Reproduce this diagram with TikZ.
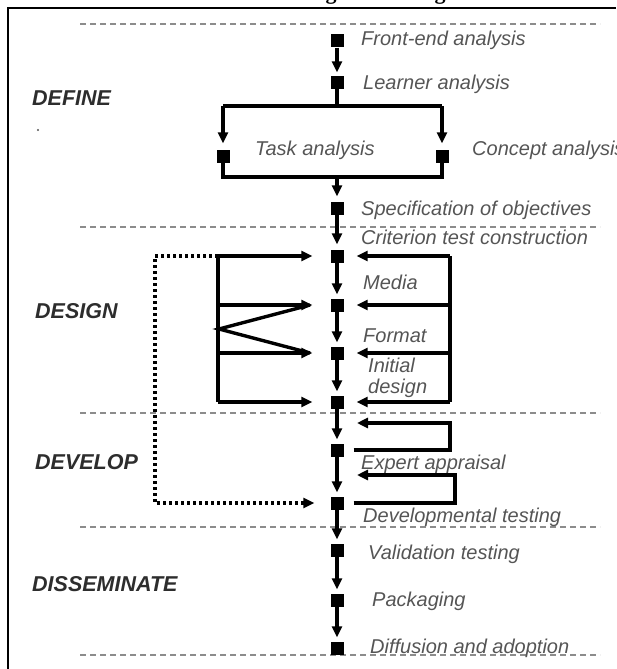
\documentclass[tikz,border=0pt]{standalone}
\usepackage{fontspec}
\setmainfont{Liberation Sans}
\newfontfamily\serifb{Liberation Serif}
\usetikzlibrary{arrows.meta}
\definecolor{txt}{RGB}{85,85,85}
\definecolor{phase}{RGB}{45,45,45}
\definecolor{sepc}{RGB}{140,140,140}
\begin{document}
\begin{tikzpicture}[x=1pt,y=-1pt,
 sq/.style={fill=black,minimum width=13pt,minimum height=13pt,inner sep=0pt,draw=none},
 lab/.style={anchor=base west,text=txt,font=\fontsize{20}{22}\selectfont\itshape,inner sep=0pt},
 ph/.style={anchor=base west,text=phase,font=\fontsize{21.5}{24}\selectfont\bfseries\itshape,inner sep=0pt},
 ln/.style={line width=3.4pt,black,line join=miter},
 ar/.style={ln,-{Triangle[length=11pt,width=10pt]}},
 sepl/.style={sepc,line width=1.4pt,dash pattern=on 6pt off 4pt},
 dotl/.style={line width=3.4pt,black,dash pattern=on 3pt off 3pt,-{Triangle[length=11pt,width=10pt]}}
]
\useasboundingbox (0,0) rectangle (616,669);
% frame
\draw[line width=2.8pt] (8,669) -- (8,8) -- (616,8);
% cut-off title descenders
\node[font=\serifb\bfseries\fontsize{22}{24}\selectfont,anchor=base,inner sep=0pt] (tg1) at (331,0) {g};
\node[font=\serifb\bfseries\fontsize{22}{24}\selectfont,anchor=base,inner sep=0pt] (tg2) at (440,0) {g};
% separators
\foreach \yy in {24,227,413,527,655} \draw[sepl] (80,\yy) -- (600,\yy);
% phase labels
\node[ph] (pdef) at (32,105) {DEFINE};
\node[ph] (pdes) at (35,318) {DESIGN};
\node[ph] (pdev) at (35,469) {DEVELOP};
\node[ph] (pdis) at (32,591) {DISSEMINATE};
\fill[txt] (38,130) circle (1.1pt);
% squares
\node[sq] (fe) at (337,41) {};
\node[sq] (la) at (337,82) {};
\node[sq] (ta) at (223,156) {};
\node[sq] (ca) at (442,156) {};
\node[sq] (so) at (337,208) {};
\node[sq] (c1) at (337,256) {};
\node[sq] (c2) at (337,305) {};
\node[sq] (c3) at (337,353) {};
\node[sq] (c4) at (337,402) {};
\node[sq] (ea) at (337,450) {};
\node[sq] (dt) at (337,503) {};
\node[sq] (vt) at (337,550) {};
\node[sq] (pk) at (337,600) {};
\node[sq] (da) at (337,648) {};
% labels
\node[lab] (tfe) at (361,46) {Front-end analysis};
\node[lab] (tla) at (363,89) {Learner analysis};
\node[lab] (tta) at (255,155) {Task analysis};
\node[lab] (tca) at (472,155) {Concept analysis};
\node[lab] (tso) at (361,215) {Specification of objectives};
\node[lab] (tct) at (361,244) {Criterion test construction};
\node[lab] (tme) at (363,289) {Media};
\node[lab] (tfo) at (363,342) {Format};
\node[lab] (tin) at (368,372) {Initial};
\node[lab] (tde) at (368,393) {design};
\node[lab] (tea) at (361,469) {Expert appraisal};
\node[lab] (tdt) at (363,522) {Developmental testing};
\node[lab] (tvt) at (368,559) {Validation testing};
\node[lab] (tpk) at (372,606) {Packaging};
\node[lab] (tda) at (370,653) {Diffusion and adoption};
% coordinates
\coordinate (jt) at (337,106);
\coordinate (bl) at (223,106);
\coordinate (br) at (442,106);
\coordinate (ql) at (223,177);
\coordinate (qr) at (442,177);
\coordinate (jb) at (337,177);
\coordinate (L1) at (218,256);
\coordinate (L2) at (218,305);
\coordinate (L3) at (218,353);
\coordinate (L4) at (218,402);
\coordinate (V) at (219,329);
\coordinate (T2) at (310,305);
\coordinate (T3) at (310,353);
\coordinate (R1) at (450,256);
\coordinate (R2) at (450,305);
\coordinate (R3) at (450,353);
\coordinate (R4) at (450,402);
\coordinate (U1) at (450,423);
\coordinate (U2) at (450,450);
\coordinate (A1) at (357,423);
\coordinate (W1) at (455,475);
\coordinate (W2) at (455,503);
\coordinate (A2) at (357,475);
\coordinate (D1) at (155,256);
\coordinate (D2) at (155,503);
% define
\draw[ar,shorten >=3pt] (fe) -- (la);
\draw[ln] (la) -- (jt);
\draw[ln] (bl) -- (br);
\draw[ar,shorten >=6pt] (bl) -- (ta);
\draw[ar,shorten >=6pt] (br) -- (ca);
\draw[ln] (ta) -- (ql) -- (qr) -- (ca);
\draw[ar,shorten >=5pt] (jb) -- (so);
\draw[ar,shorten >=5pt] (so) -- (c1);
% design
\draw[ar,shorten >=4pt] (c1) -- (c2);
\draw[ar,shorten >=4pt] (c2) -- (c3);
\draw[ar,shorten >=4pt] (c3) -- (c4);
\draw[ln] (L1) -- (L4);
\draw[ln] (R1) -- (R4);
\foreach \n in {1,2,3,4} {
  \draw[ar,shorten >=18pt] (L\n) -- (c\n);
  \draw[ar,shorten >=13pt] (R\n) -- (c\n);
}
\draw[ln] (T2) -- (V) -- (T3);
% develop
\draw[ar,shorten >=4pt] (c4) -- (ea);
\draw[ar,shorten >=4pt] (ea) -- (dt);
\draw[ar,shorten <=10pt] (ea) -- (U2) -- (U1) -- (A1);
\draw[ar,shorten <=10pt] (dt) -- (W2) -- (W1) -- (A2);
\draw[dotl,shorten >=16pt] (L1) -- (D1) -- (D2) -- (dt);
% disseminate
\draw[ar,shorten >=4pt] (dt) -- (vt);
\draw[ar,shorten >=4pt] (vt) -- (pk);
\draw[ar,shorten >=4pt] (pk) -- (da);
\end{tikzpicture}
\end{document}
